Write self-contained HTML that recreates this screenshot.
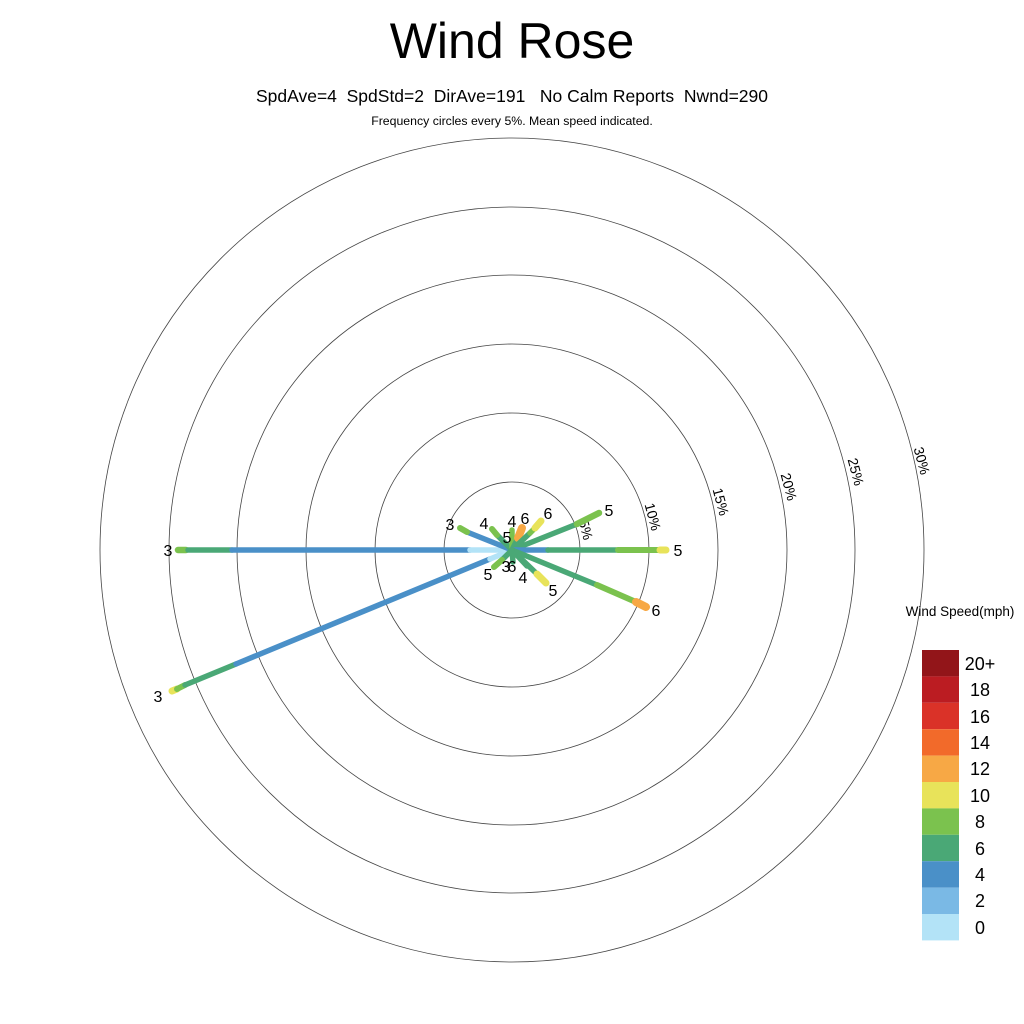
<!DOCTYPE html>
<html><head><style>
html,body{margin:0;padding:0;background:#fff;}
svg{display:block;font-family:"Liberation Sans",sans-serif;}
</style></head><body>
<svg width="1024" height="1024" viewBox="0 0 1024 1024">
<text x="512" y="58" font-size="50" text-anchor="middle">Wind Rose</text>
<text x="512" y="102" font-size="17.5" text-anchor="middle" xml:space="preserve">SpdAve=4  SpdStd=2  DirAve=191   No Calm Reports  Nwnd=290</text>
<text x="512" y="125" font-size="12.3" text-anchor="middle">Frequency circles every 5%. Mean speed indicated.</text>
<g fill="none" stroke="#444" stroke-width="0.8">
<circle cx="512" cy="550" r="68"/>
<circle cx="512" cy="550" r="137"/>
<circle cx="512" cy="550" r="206"/>
<circle cx="512" cy="550" r="275"/>
<circle cx="512" cy="550" r="343"/>
<circle cx="512" cy="550" r="412"/>
</g>
<g font-size="14" text-anchor="middle">
<text transform="translate(585,530) rotate(75)" dy="4">5%</text>
<text transform="translate(652,517) rotate(75)" dy="4">10%</text>
<text transform="translate(720,502) rotate(75)" dy="4">15%</text>
<text transform="translate(788,487) rotate(75)" dy="4">20%</text>
<text transform="translate(855,472) rotate(75)" dy="4">25%</text>
<text transform="translate(921,461) rotate(75)" dy="4">30%</text>
</g>
<g stroke-width="5.5" stroke-linecap="round" fill="none">
<line x1="186" y1="550" x2="178" y2="550" stroke="#7bc24e" stroke-width="6.5"/>
<line x1="232" y1="550" x2="188" y2="550" stroke="#4aa876"/>
<line x1="470" y1="550" x2="232" y2="550" stroke="#4a90c8"/>
<line x1="512" y1="550" x2="470" y2="550" stroke="#b3e3f7"/>
<line x1="177" y1="689" x2="172" y2="691" stroke="#e8e35a" stroke-width="7"/>
<line x1="185" y1="685" x2="177" y2="689" stroke="#7bc24e" stroke-width="6"/>
<line x1="236" y1="664" x2="185" y2="685" stroke="#4aa876"/>
<line x1="490" y1="559" x2="236" y2="664" stroke="#4a90c8"/>
<line x1="512" y1="550" x2="490" y2="559" stroke="#b3e3f7"/>
<line x1="512" y1="550" x2="467" y2="532" stroke="#4a90c8"/>
<line x1="467" y1="532" x2="460" y2="528" stroke="#7bc24e" stroke-width="6"/>
<line x1="512" y1="550" x2="497" y2="535" stroke="#4aa876"/>
<line x1="497" y1="535" x2="492" y2="529" stroke="#7bc24e" stroke-width="6"/>
<line x1="512" y1="550" x2="512" y2="530" stroke="#7bc24e"/>
<line x1="512" y1="550" x2="518" y2="538" stroke="#4aa876"/>
<line x1="518" y1="538" x2="522" y2="528" stroke="#f7a845" stroke-width="8"/>
<line x1="512" y1="550" x2="530" y2="533" stroke="#4aa876"/>
<line x1="530" y1="533" x2="535" y2="528" stroke="#7bc24e"/>
<line x1="535" y1="528" x2="541" y2="521" stroke="#e8e35a" stroke-width="7"/>
<line x1="512" y1="550" x2="577" y2="524" stroke="#4aa876"/>
<line x1="577" y1="524" x2="599" y2="513" stroke="#7bc24e" stroke-width="6.5"/>
<line x1="512" y1="550" x2="548" y2="550" stroke="#4a90c8"/>
<line x1="548" y1="550" x2="618" y2="550" stroke="#4aa876"/>
<line x1="618" y1="550" x2="660" y2="550" stroke="#7bc24e" stroke-width="6"/>
<line x1="660" y1="550" x2="666" y2="550" stroke="#e8e35a" stroke-width="7"/>
<line x1="512" y1="550" x2="597" y2="585" stroke="#4aa876"/>
<line x1="597" y1="585" x2="636" y2="602" stroke="#7bc24e" stroke-width="6"/>
<line x1="636" y1="602" x2="646" y2="607" stroke="#f7a845" stroke-width="8"/>
<line x1="512" y1="550" x2="537" y2="574" stroke="#4aa876"/>
<line x1="537" y1="574" x2="546" y2="583" stroke="#e8e35a" stroke-width="7"/>
<line x1="512" y1="550" x2="527" y2="566" stroke="#4aa876"/>
<line x1="512" y1="550" x2="513" y2="562" stroke="#4aa876"/>
<line x1="512" y1="550" x2="502" y2="560" stroke="#4aa876"/>
<line x1="502" y1="560" x2="494" y2="567" stroke="#7bc24e" stroke-width="6"/>
</g>
<g font-size="16" text-anchor="middle">
<text x="168" y="556">3</text>
<text x="158" y="702">3</text>
<text x="450" y="530">3</text>
<text x="484" y="529">4</text>
<text x="512" y="527">4</text>
<text x="507" y="543">5</text>
<text x="525" y="524">6</text>
<text x="548" y="519">6</text>
<text x="609" y="516">5</text>
<text x="678" y="556">5</text>
<text x="656" y="616">6</text>
<text x="553" y="596">5</text>
<text x="523" y="583">4</text>
<text x="506" y="572">3</text>
<text x="512" y="572">6</text>
<text x="488" y="580">5</text>
</g>
<text x="960" y="616" font-size="13.5" text-anchor="middle">Wind Speed(mph)</text>
<g>
<rect x="922" y="650" width="37" height="26.4" fill="#921519"/>
<rect x="922" y="676.4" width="37" height="26.4" fill="#bb1c22"/>
<rect x="922" y="702.8" width="37" height="26.4" fill="#da3228"/>
<rect x="922" y="729.2" width="37" height="26.4" fill="#f26a2a"/>
<rect x="922" y="755.6" width="37" height="26.4" fill="#f7a845"/>
<rect x="922" y="782" width="37" height="26.4" fill="#e8e35a"/>
<rect x="922" y="808.4" width="37" height="26.4" fill="#7bc24e"/>
<rect x="922" y="834.8" width="37" height="26.4" fill="#4aa876"/>
<rect x="922" y="861.2" width="37" height="26.4" fill="#4a90c8"/>
<rect x="922" y="887.6" width="37" height="26.4" fill="#7ab9e5"/>
<rect x="922" y="914" width="37" height="26.4" fill="#b3e3f7"/>
</g>
<g font-size="18" text-anchor="middle">
<text x="980" y="670">20+</text>
<text x="980" y="696">18</text>
<text x="980" y="723">16</text>
<text x="980" y="749">14</text>
<text x="980" y="775">12</text>
<text x="980" y="802">10</text>
<text x="980" y="828">8</text>
<text x="980" y="855">6</text>
<text x="980" y="881">4</text>
<text x="980" y="907">2</text>
<text x="980" y="934">0</text>
</g>
</svg>
</body></html>
